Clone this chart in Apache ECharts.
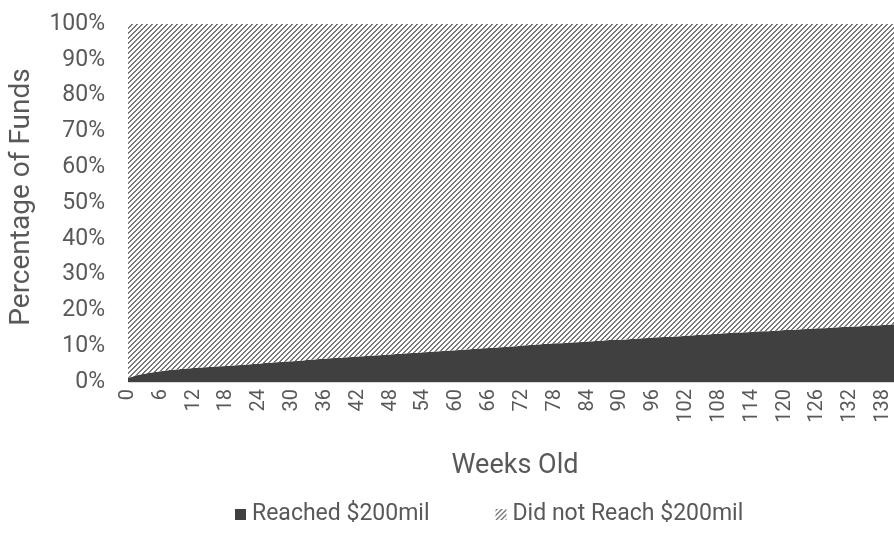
<!DOCTYPE html>
<html>
<head>
<meta charset="utf-8">
<style>
  html, body { margin: 0; padding: 0; background: #ffffff; }
  #chart { width: 894px; height: 544px; }
</style>
<script src="https://cdn.jsdelivr.net/npm/echarts@6/dist/echarts.min.js"></script>
</head>
<body>
<div id="chart"></div>
<script>
// Fund age in weeks (0 .. 140)
const weeks = Array.from({ length: 141 }, (_, i) => String(i));

// Share of funds (%) that had reached $200mil by each week
const reached = [
  1.1, 1.6, 2.0, 2.3, 2.6, 2.8, 3.0, 3.2, 3.4, 3.5,
  3.7, 3.8, 3.9, 4.0, 4.1, 4.2, 4.3, 4.4, 4.5, 4.6,
  4.7, 4.8, 4.9, 5.0, 5.1, 5.3, 5.4, 5.5, 5.6, 5.7,
  5.8, 5.9, 6.0, 6.2, 6.3, 6.4, 6.5, 6.6, 6.7, 6.8,
  6.9, 7.0, 7.1, 7.2, 7.3, 7.4, 7.5, 7.6, 7.7, 7.8,
  7.9, 8.0, 8.1, 8.2, 8.3, 8.4, 8.5, 8.6, 8.7, 8.8,
  8.9, 9.0, 9.1, 9.2, 9.3, 9.4, 9.5, 9.6, 9.7, 9.8,
  9.9, 10.0, 10.2, 10.3, 10.4, 10.5, 10.6, 10.7, 10.8, 10.8,
  10.9, 11.0, 11.1, 11.2, 11.3, 11.4, 11.5, 11.6, 11.7, 11.7,
  11.8, 11.9, 12.0, 12.1, 12.2, 12.3, 12.4, 12.5, 12.6, 12.6,
  12.7, 12.8, 12.9, 13.0, 13.1, 13.2, 13.3, 13.4, 13.5, 13.6,
  13.7, 13.8, 13.8, 13.9, 14.0, 14.1, 14.2, 14.2, 14.3, 14.4,
  14.5, 14.6, 14.6, 14.7, 14.8, 14.9, 15.0, 15.0, 15.1, 15.2,
  15.3, 15.4, 15.4, 15.5, 15.6, 15.7, 15.8, 15.8, 15.9, 16.0,
  16.1
];

// Share of funds (%) that had not reached $200mil by each week
const notReached = [
  98.9, 98.4, 98.0, 97.7, 97.4, 97.2, 97.0, 96.8, 96.6, 96.5,
  96.3, 96.2, 96.1, 96.0, 95.9, 95.8, 95.7, 95.6, 95.5, 95.4,
  95.3, 95.2, 95.1, 95.0, 94.9, 94.7, 94.6, 94.5, 94.4, 94.3,
  94.2, 94.1, 94.0, 93.8, 93.7, 93.6, 93.5, 93.4, 93.3, 93.2,
  93.1, 93.0, 92.9, 92.8, 92.7, 92.6, 92.5, 92.4, 92.3, 92.2,
  92.1, 92.0, 91.9, 91.8, 91.7, 91.6, 91.5, 91.4, 91.3, 91.2,
  91.1, 91.0, 90.9, 90.8, 90.7, 90.6, 90.5, 90.4, 90.3, 90.2,
  90.1, 90.0, 89.8, 89.7, 89.6, 89.5, 89.4, 89.3, 89.2, 89.2,
  89.1, 89.0, 88.9, 88.8, 88.7, 88.6, 88.5, 88.4, 88.3, 88.3,
  88.2, 88.1, 88.0, 87.9, 87.8, 87.7, 87.6, 87.5, 87.4, 87.4,
  87.3, 87.2, 87.1, 87.0, 86.9, 86.8, 86.7, 86.6, 86.5, 86.4,
  86.3, 86.2, 86.2, 86.1, 86.0, 85.9, 85.8, 85.8, 85.7, 85.6,
  85.5, 85.4, 85.4, 85.3, 85.2, 85.1, 85.0, 85.0, 84.9, 84.8,
  84.7, 84.6, 84.6, 84.5, 84.4, 84.3, 84.2, 84.2, 84.1, 84.0,
  83.9
];

const seriesNames = ['Reached $200mil', 'Did not Reach $200mil'];

// Upward diagonal hatch tile used for the "did not reach" area
function makeHatch() {
  const n = 10;
  const c = document.createElement('canvas');
  c.width = n; c.height = n;
  const ctx = c.getContext('2d');
  ctx.fillStyle = '#ffffff';
  ctx.fillRect(0, 0, n, n);
  ctx.fillStyle = '#7a7a7a';
  for (let y = 0; y < n; y++) {
    for (let x = 0; x < n; x++) {
      if ((x + y) % 5 < 2) ctx.fillRect(x, y, 1, 1);
    }
  }
  return c;
}
const hatch = { image: makeHatch(), repeat: 'repeat' };
const dark = '#404040';
const textColor = '#595959';
const font = 'Roboto';

const chart = echarts.init(document.getElementById('chart'), null, { renderer: 'canvas' });
chart.setOption({
  animation: false,
  textStyle: { fontFamily: font },
  grid: { left: 126, right: -2, top: 24, bottom: 162, containLabel: false },
  legend: {
    top: 498,
    left: 230,
    itemWidth: 11,
    itemHeight: 11,
    itemGap: 66,
    icon: 'rect',
    textStyle: { fontFamily: font, fontSize: 23, color: textColor, padding: [0, 0, 0, 1] },
    data: [
      { name: seriesNames[0], itemStyle: { color: dark } },
      { name: seriesNames[1], itemStyle: { color: hatch } }
    ]
  },
  xAxis: {
    type: 'category',
    data: weeks,
    boundaryGap: false,
    name: 'Weeks Old',
    nameLocation: 'middle',
    nameGap: 71,
    nameTextStyle: { fontFamily: font, fontSize: 27, color: textColor, padding: [0, 0, 0, 8] },
    axisLine: { lineStyle: { color: '#d9d9d9', width: 1 } },
    axisTick: { show: false },
    axisLabel: {
      interval: 5,
      rotate: 90,
      margin: 7,
      fontFamily: font,
      fontSize: 20,
      color: textColor
    },
    splitLine: { show: false }
  },
  yAxis: {
    type: 'value',
    min: 0,
    max: 100,
    interval: 10,
    name: 'Percentage of Funds',
    nameLocation: 'middle',
    nameGap: 92,
    nameTextStyle: { fontFamily: font, fontSize: 28, color: textColor, padding: [0, 0, 0, 12] },
    axisLine: { show: false },
    axisTick: { show: false },
    splitLine: { show: false },
    axisLabel: {
      formatter: '{value}%',
      margin: 23,
      fontFamily: font,
      fontSize: 23,
      color: textColor
    }
  },
  series: [
    {
      name: seriesNames[0],
      type: 'line',
      stack: 'funds',
      data: reached,
      showSymbol: false,
      symbol: 'none',
      lineStyle: { width: 0 },
      itemStyle: { color: dark },
      areaStyle: { color: dark, opacity: 1 }
    },
    {
      name: seriesNames[1],
      type: 'line',
      stack: 'funds',
      data: notReached,
      showSymbol: false,
      symbol: 'none',
      lineStyle: { width: 0 },
      itemStyle: { color: '#7a7a7a' },
      areaStyle: { color: hatch, opacity: 1 }
    }
  ]
});
</script>
</body>
</html>
